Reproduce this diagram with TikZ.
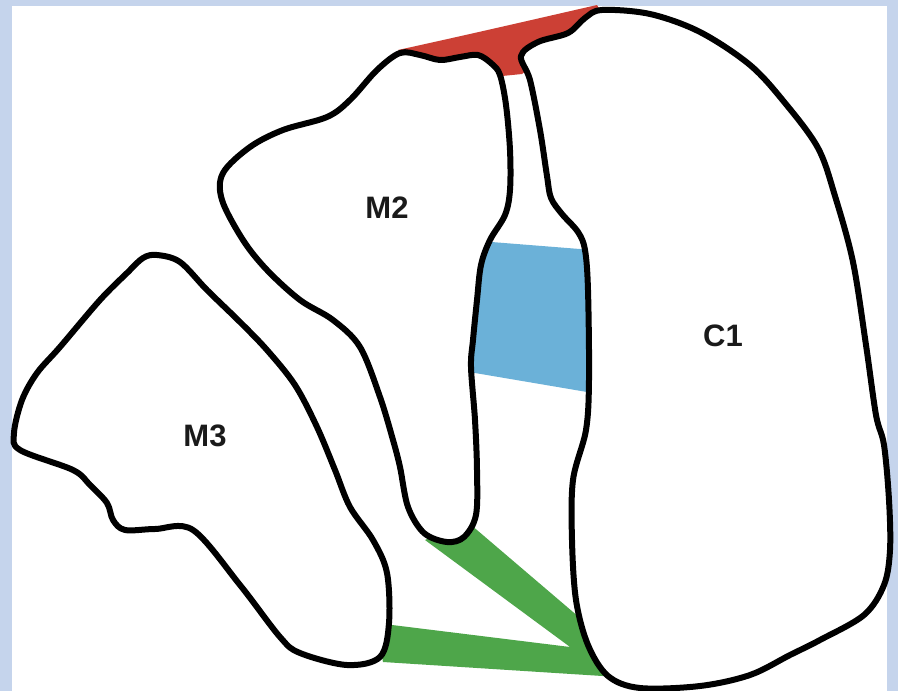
\documentclass[tikz,border=0pt]{standalone}
\usepackage{fontspec}
\setmainfont{Liberation Sans}
\usetikzlibrary{positioning}
\definecolor{Dark}{HTML}{1A1A1A}
\definecolor{Frame}{HTML}{C5D4EC}
\definecolor{RedZone}{HTML}{CC4035}
\definecolor{BlueZone}{HTML}{6BB1D8}
\definecolor{GreenZone}{HTML}{4EA64A}
\tikzset{
    lobe/.style={fill=white, draw=black, line width=6pt, line join=round},
    tag/.style={font=\bfseries\fontsize{31}{36}\selectfont, text=Dark, inner sep=0pt},
}

\begin{document}
\begin{tikzpicture}[x=1pt, y=-1pt]
    % Frame
    \useasboundingbox (0,0) rectangle (898,691);
    \fill[Frame] (0,0) rectangle (898,691);
    \fill[white] (12,6) rectangle (887,691);

    % Coloured zones (under the outlines)
    \fill[RedZone] (398,50) .. controls (480,32) and (540,18) .. (597,5) -- (612,30) -- (540,60)
        -- (522,74) -- (502,76) -- (480,68) -- (440,66) -- (415,60) -- cycle;
    \fill[BlueZone] (470,240.3) -- (600,250.6) -- (600,394.2) -- (465,371.3) -- cycle;
    \fill[GreenZone] (425,540) -- (465,519.8) -- (590,626.5) -- (620,650) -- (615,676.8)
        -- (383,662) -- (376,623) -- (570.1,647) -- cycle;

    % Lobes
    \draw[lobe] plot[smooth cycle, tension=0.55] coordinates {
        (157,255) (180,262) (207,290) (240,322) (267,350) (295,385) (317,427)
        (335,470) (350,507) (373,540) (387,573) (389,623) (380,657) (347,665)
        (300,653) (280,637) (240,585) (193,530) (155,529) (125,530) (113,520)
        (107,503) (90,485) (73,470) (20,450) (14,433) (22,400) (37,373)
        (60,347) (100,300) (127,273) (143,258)};
    \draw[lobe] plot[smooth cycle, tension=0.55] coordinates {
        (400,53) (420,55) (440,60) (460,57) (478,55) (492,64) (500,75)
        (506,105) (510,150) (510,190) (505,215) (490,240) (481,265) (477,300)
        (473,340) (471,367) (475,420) (477,470) (476,515) (464,537) (447,542)
        (424,533) (408,507) (400,467) (393,440) (380,397) (360,347) (333,320)
        (300,300) (267,270) (243,240) (222,200) (223,173) (250,147) (283,130)
        (327,117) (350,100) (377,70)};
    \draw[lobe] plot[smooth cycle, tension=0.55] coordinates {
        (521,56) (538,42) (568,33) (585,18) (602,10) (650,14) (700,32)
        (750,65) (785,103) (818,148) (835,196) (853,262) (866,345) (876,415)
        (884,445) (889,500) (890,550) (884,585) (864,615) (820,640) (790,655)
        (750,675) (700,686) (640,688) (608,676) (588,645) (576,600) (572,540)
        (573,480) (586,430) (589,380) (588,290) (585,250) (578,232) (562,214)
        (551,198) (547,176) (540,130) (530,80)};

    % Labels
    \node[tag] (m2) at (387,208) {M2};
    \node[tag] (m3) at (205,436) {M3};
    \node[tag] (c1) at (723,336) {C1};
\end{tikzpicture}
\end{document}
